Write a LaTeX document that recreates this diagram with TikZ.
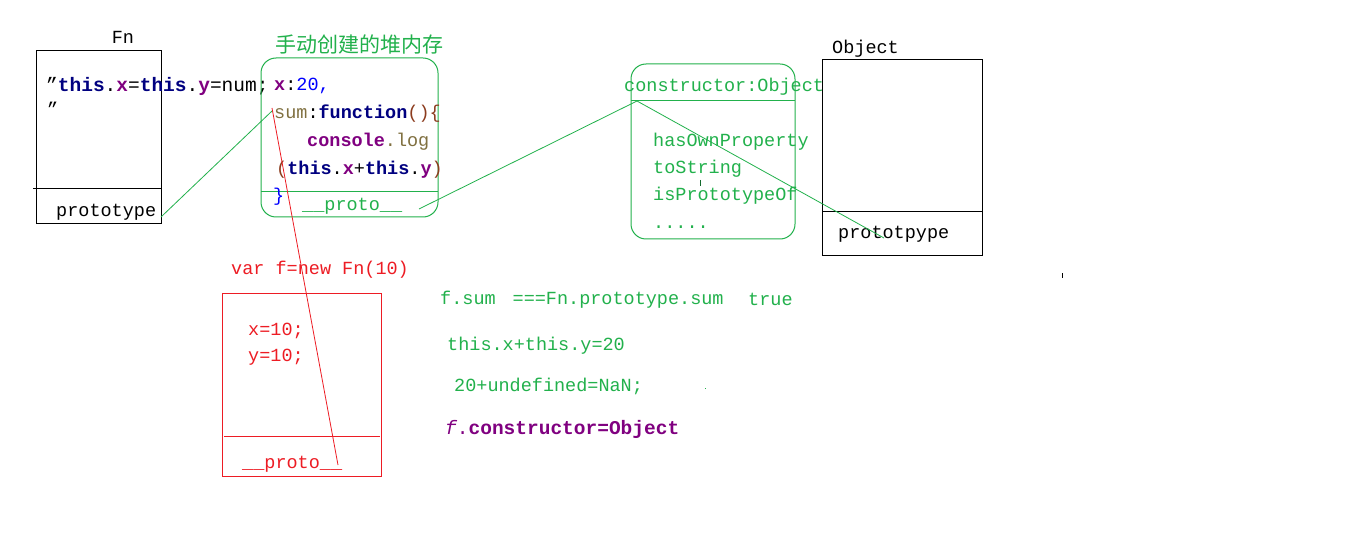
\documentclass[tikz,border=0pt]{standalone}
\usepackage{fontspec}
\setmonofont{Liberation Mono}
\newfontfamily\cjk{Noto Sans CJK SC}
\definecolor{pgreen}{RGB}{34,177,76}
\definecolor{pred}{RGB}{237,28,36}
\definecolor{navy}{RGB}{0,0,128}
\definecolor{purp}{RGB}{128,0,128}
\definecolor{olivec}{RGB}{128,112,64}
\definecolor{brownc}{RGB}{140,60,30}
\definecolor{bluec}{RGB}{0,0,255}
\begin{document}
\begin{tikzpicture}[x=1pt,y=-1pt,
  txt/.style={inner sep=0pt,anchor=west,font=\ttfamily\fontsize{18.5}{21}\selectfont},
  bigtxt/.style={txt,font=\ttfamily\fontsize{19.5}{22}\selectfont},
  blackbox/.style={draw=black,line width=1pt,inner sep=0pt},
  greenbox/.style={draw=pgreen,line width=1pt,rounded corners=15pt,inner sep=0pt},
  redbox/.style={draw=pred,line width=1pt,inner sep=0pt},
  gline/.style={draw=pgreen,line width=0.8pt},
  rline/.style={draw=pred,line width=0.8pt},
  kline/.style={draw=black,line width=1pt}]
\useasboundingbox[fill=white] (0,0) rectangle (1360,540);

% Fn box
\node[blackbox,minimum width=125pt,minimum height=173pt] (fnbox) at (98.5,137.5) {};
\coordinate (fnl) at (33,189); \coordinate (fnr) at (161,189);
\draw[kline] (fnl) -- (fnr);
\node[txt,anchor=center] (fnlabel) at (123,37) {Fn};
\node[bigtxt] (fncode) at (46,86) {”\textcolor{navy}{\bfseries this}.\textcolor{purp}{\bfseries x}=\textcolor{navy}{\bfseries this}.\textcolor{purp}{\bfseries y}=num;};
\node[txt] (fnquote) at (47,109) {”};
\node[txt] (fnproto) at (56,212) {prototype};

% heap box
\node[greenbox,minimum width=177pt,minimum height=159pt] (heap) at (349.5,137.5) {};
\coordinate (hl) at (261,192); \coordinate (hr) at (438,192);
\draw[gline,line width=1pt] (hl) -- (hr);
\node[inner sep=0pt,text=pgreen,font=\cjk\fontsize{21}{23}\selectfont] (heaplabel) at (359,45) {手动创建的堆内存};
\node[txt] (hx) at (274,86) {\textcolor{purp}{\bfseries x}:\textcolor{bluec}{20,}};
\node[txt] (hsum) at (274,114) {\textcolor{olivec}{sum}:\textcolor{navy}{\bfseries function}\textcolor{brownc}{()\{}};
\node[txt] (hlog) at (307,142) {\textcolor{purp}{\bfseries console}\textcolor{olivec}{.log}};
\node[txt] (hthis) at (276,170) {\textcolor{brownc}{(}\textcolor{navy}{\bfseries this}.\textcolor{purp}{\bfseries x}+\textcolor{navy}{\bfseries this}.\textcolor{purp}{\bfseries y}\textcolor{brownc}{)}};
\node[txt,text=bluec] (hbrace) at (273,197) {\}};
\node[txt,text=pgreen] (hproto) at (302,206) {\_\_proto\_\_};

% Object prototype box
\node[greenbox,minimum width=164pt,minimum height=175pt] (objproto) at (713,151.5) {};
\coordinate (ol) at (631,101); \coordinate (or) at (795,101);
\draw[gline,line width=1pt] (ol) -- (or);
\node[txt,text=pgreen] (ctor) at (624,87) {constructor:Object};
\node[txt,text=pgreen] (m1) at (653,142) {hasOwnProperty};
\node[txt,text=pgreen] (m2) at (653,169) {toString};
\node[txt,text=pgreen] (m3) at (653,196) {isPrototypeOf};
\node[txt,text=pgreen] (m4) at (653,227) {.....};
\coordinate (tk1) at (700,180); \coordinate (tk2) at (700,186);
\draw[draw=pgreen!60!black,line width=0.8pt] (tk1) -- (tk2);

% Object box
\node[blackbox,minimum width=160pt,minimum height=195pt] (objbox) at (902,157.5) {};
\coordinate (obl) at (822,212); \coordinate (obr) at (982,212);
\draw[kline] (obl) -- (obr);
\node[txt] (objlabel) at (832,49) {Object};
\node[txt] (objproto2) at (838,234) {prototpype};

% instance f
\node[redbox,minimum width=159pt,minimum height=183pt] (fbox) at (301.5,384.5) {};
\coordinate (fl) at (224,436); \coordinate (fr) at (380,436);
\draw[rline,line width=1pt] (fl) -- (fr);
\node[txt,text=pred] (fnew) at (231,270) {var f=new Fn(10)};
\node[txt,text=pred] (fx) at (248,331) {x=10;};
\node[txt,text=pred] (fy) at (248,357) {y=10;};
\node[txt,text=pred] (fproto) at (242,464) {\_\_proto\_\_};

% notes
\node[txt,text=pgreen] (n1) at (440,300) {f.sum\hspace{17pt}===Fn.prototype.sum};
\node[txt,text=pgreen] (n1b) at (748,299) {true};
\node[txt,text=pgreen] (n2) at (447,346) {this.x+this.y=20};
\node[txt,text=pgreen] (n3) at (454,386) {20+undefined=NaN;};
\node[bigtxt,text=purp] (n4) at (445,429) {\textit{f}.\bfseries constructor=Object};
\coordinate (dt1) at (705,388); \coordinate (dt2) at (706,388);
\draw[pgreen,line width=1pt] (dt1) -- (dt2);
\coordinate (tk3) at (1062,273); \coordinate (tk4) at (1062,278);
\draw[kline] (tk3) -- (tk4);

% connectors
\coordinate (fnpend) at (161,217);
\coordinate (sumpt) at (272,111);
\coordinate (protoend) at (419,209);
\coordinate (ctorpt) at (637,101);
\coordinate (objpend) at (884,238);
\coordinate (redstart) at (272,108);
\coordinate (redend) at (338,465);
\draw[gline] (fnpend) -- (sumpt);
\draw[gline] (protoend) -- (ctorpt);
\draw[gline] (ctorpt) -- (objpend);
\draw[rline] (redstart) -- (redend);
\end{tikzpicture}
\end{document}
